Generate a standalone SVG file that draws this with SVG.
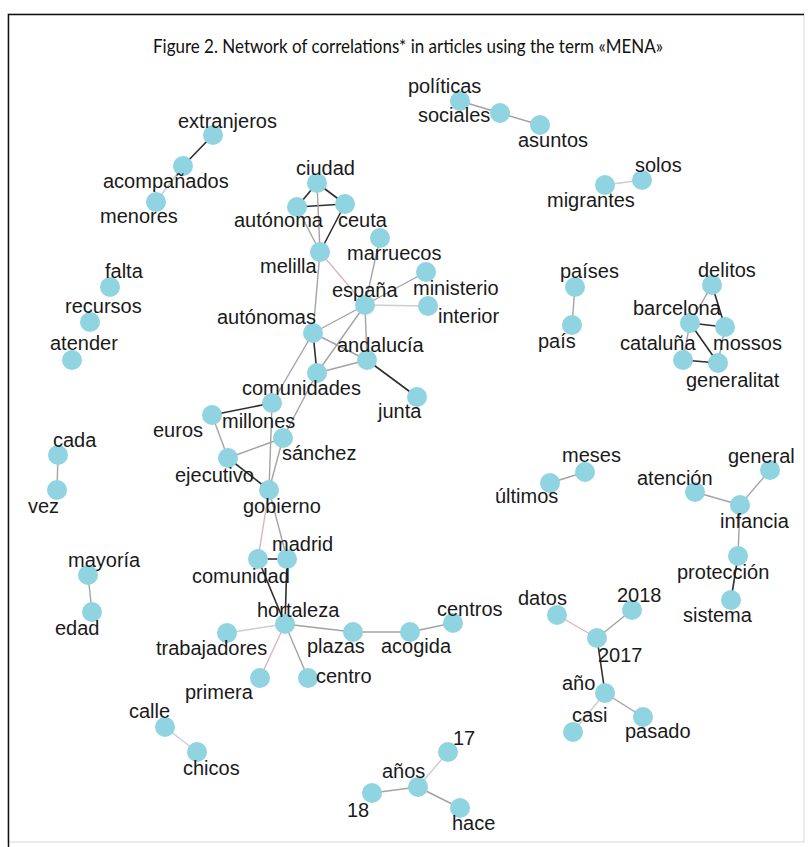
<svg xmlns="http://www.w3.org/2000/svg" width="809" height="847" viewBox="0 0 809 847">
<style>
.n circle{fill:#8fd4e0}
.n text{font-family:"Liberation Sans",Arial,sans-serif;font-size:20px;fill:#1a1a1a}
.d{stroke:#2e2e2e;stroke-width:1.6}
.g{stroke:#a3a3a3;stroke-width:1.4}
.l{stroke:#cdcdcd;stroke-width:1.4}
.p{stroke:#dbb5bd;stroke-width:1.4}
.title{font-family:Lato,"Liberation Sans",sans-serif;font-size:19px;fill:#111}
</style>
<rect x="0" y="0" width="809" height="847" fill="#ffffff"/>
<rect x="8" y="14" width="796" height="828" fill="none" stroke="#d8d8d8" stroke-width="1"/>
<path d="M8.5 847 V14.5 H804" fill="none" stroke="#111" stroke-width="1.5"/>
<g id="title">
<text class="title" x="153" y="53" textLength="510" lengthAdjust="spacingAndGlyphs">Figure 2. Network of correlations* in articles using the term «MENA»</text>
</g>
<g id="edges" fill="none">
<line class="d" x1="213" y1="135" x2="183" y2="166"/>
<line class="l" x1="183" y1="166" x2="156" y2="202"/>
<line class="g" x1="58" y1="455" x2="57" y2="490"/>
<line class="g" x1="460" y1="101" x2="500" y2="113"/>
<line class="g" x1="500" y1="113" x2="540" y2="125"/>
<line class="l" x1="642" y1="180" x2="605" y2="185"/>
<line class="d" x1="317" y1="183" x2="297" y2="207"/>
<line class="d" x1="317" y1="183" x2="345" y2="204"/>
<line class="d" x1="297" y1="207" x2="345" y2="204"/>
<line class="g" x1="317" y1="183" x2="320" y2="252"/>
<line class="d" x1="345" y1="204" x2="320" y2="252"/>
<line class="g" x1="297" y1="207" x2="320" y2="252"/>
<line class="p" x1="320" y1="252" x2="365" y2="305"/>
<line class="g" x1="320" y1="252" x2="313" y2="333"/>
<line class="g" x1="380" y1="238" x2="365" y2="305"/>
<line class="g" x1="365" y1="305" x2="426" y2="272"/>
<line class="l" x1="365" y1="305" x2="428" y2="306"/>
<line class="g" x1="365" y1="305" x2="313" y2="333"/>
<line class="g" x1="365" y1="305" x2="367" y2="360"/>
<line class="g" x1="365" y1="305" x2="317" y2="373"/>
<line class="g" x1="313" y1="333" x2="367" y2="360"/>
<line class="d" x1="313" y1="333" x2="317" y2="373"/>
<line class="g" x1="317" y1="373" x2="367" y2="360"/>
<line class="d" x1="367" y1="360" x2="417" y2="397"/>
<line class="g" x1="313" y1="333" x2="272" y2="403"/>
<line class="g" x1="317" y1="373" x2="283" y2="438"/>
<line class="d" x1="212" y1="415" x2="272" y2="403"/>
<line class="g" x1="212" y1="415" x2="228" y2="458"/>
<line class="g" x1="228" y1="458" x2="283" y2="438"/>
<line class="d" x1="228" y1="458" x2="269" y2="490"/>
<line class="g" x1="272" y1="403" x2="269" y2="490"/>
<line class="g" x1="283" y1="438" x2="269" y2="490"/>
<line class="p" x1="269" y1="490" x2="258" y2="559"/>
<line class="g" x1="269" y1="490" x2="287" y2="559"/>
<line class="d" x1="258" y1="559" x2="287" y2="559"/>
<line class="d" x1="258" y1="559" x2="285" y2="624"/>
<line class="d" x1="287" y1="559" x2="285" y2="624"/>
<line class="l" x1="285" y1="624" x2="227" y2="633"/>
<line class="p" x1="285" y1="624" x2="260" y2="678"/>
<line class="g" x1="285" y1="624" x2="308" y2="678"/>
<line class="g" x1="285" y1="624" x2="353" y2="632"/>
<line class="g" x1="353" y1="632" x2="410" y2="632"/>
<line class="g" x1="410" y1="632" x2="453" y2="623"/>
<line class="l" x1="448" y1="752" x2="418" y2="787"/>
<line class="g" x1="418" y1="787" x2="372" y2="793"/>
<line class="g" x1="418" y1="787" x2="460" y2="808"/>
<line class="g" x1="88" y1="575" x2="92" y2="612"/>
<line class="l" x1="165" y1="727" x2="197" y2="752"/>
<line class="p" x1="557" y1="615" x2="597" y2="638"/>
<line class="g" x1="632" y1="610" x2="597" y2="638" stroke="#a898ac"/>
<line class="d" x1="597" y1="638" x2="605" y2="693" stroke="#555"/>
<line class="g" x1="605" y1="693" x2="643" y2="717"/>
<line class="l" x1="605" y1="693" x2="573" y2="732"/>
<line class="g" x1="575" y1="287" x2="572" y2="325"/>
<line class="g" x1="712" y1="285" x2="690" y2="323"/>
<line class="d" x1="712" y1="285" x2="725" y2="327"/>
<line class="d" x1="690" y1="323" x2="725" y2="327"/>
<line class="d" x1="690" y1="323" x2="718" y2="363"/>
<line class="d" x1="683" y1="360" x2="718" y2="363"/>
<line class="g" x1="690" y1="323" x2="683" y2="360"/>
<line class="g" x1="725" y1="327" x2="718" y2="363"/>
<line class="g" x1="585" y1="472" x2="550" y2="483"/>
<line class="g" x1="695" y1="492" x2="740" y2="505"/>
<line class="g" x1="770" y1="470" x2="740" y2="505"/>
<line class="g" x1="740" y1="505" x2="738" y2="556"/>
<line class="d" x1="738" y1="556" x2="731" y2="600" stroke="#555"/>
</g>
<g id="extranjeros" class="n"><circle cx="213" cy="135" r="10"/><text x="178" y="128">extranjeros</text></g>
<g id="acompanados" class="n"><circle cx="183" cy="166" r="10"/><text x="103" y="188">acompañados</text></g>
<g id="menores" class="n"><circle cx="156" cy="202" r="10"/><text x="100" y="223">menores</text></g>
<g id="falta" class="n"><circle cx="110" cy="287" r="10"/><text x="105" y="278">falta</text></g>
<g id="recursos" class="n"><circle cx="90" cy="322" r="10"/><text x="65" y="313">recursos</text></g>
<g id="atender" class="n"><circle cx="72" cy="360" r="10"/><text x="50" y="350">atender</text></g>
<g id="cada" class="n"><circle cx="58" cy="455" r="10"/><text x="53" y="447">cada</text></g>
<g id="vez" class="n"><circle cx="57" cy="490" r="10"/><text x="28" y="513">vez</text></g>
<g id="politicas" class="n"><circle cx="460" cy="101" r="10"/><text x="408" y="93">políticas</text></g>
<g id="sociales" class="n"><circle cx="500" cy="113" r="10"/><text x="418" y="122">sociales</text></g>
<g id="asuntos" class="n"><circle cx="540" cy="125" r="10"/><text x="518" y="147">asuntos</text></g>
<g id="solos" class="n"><circle cx="642" cy="180" r="10"/><text x="635" y="172">solos</text></g>
<g id="migrantes" class="n"><circle cx="605" cy="185" r="10"/><text x="547" y="207">migrantes</text></g>
<g id="ciudad" class="n"><circle cx="317" cy="183" r="10"/><text x="296" y="175">ciudad</text></g>
<g id="autonoma" class="n"><circle cx="297" cy="207" r="10"/><text x="234" y="227">autónoma</text></g>
<g id="ceuta" class="n"><circle cx="345" cy="204" r="10"/><text x="338" y="227">ceuta</text></g>
<g id="melilla" class="n"><circle cx="320" cy="252" r="10"/><text x="260" y="273">melilla</text></g>
<g id="marruecos" class="n"><circle cx="380" cy="238" r="10"/><text x="347" y="260">marruecos</text></g>
<g id="espana" class="n"><circle cx="365" cy="305" r="10"/><text x="332" y="297">españa</text></g>
<g id="ministerio" class="n"><circle cx="426" cy="272" r="10"/><text x="413" y="295">ministerio</text></g>
<g id="interior" class="n"><circle cx="428" cy="306" r="10"/><text x="438" y="323">interior</text></g>
<g id="autonomas" class="n"><circle cx="313" cy="333" r="10"/><text x="217" y="324">autónomas</text></g>
<g id="andalucia" class="n"><circle cx="367" cy="360" r="10"/><text x="337" y="352">andalucía</text></g>
<g id="comunidades" class="n"><circle cx="317" cy="373" r="10"/><text x="242" y="395">comunidades</text></g>
<g id="junta" class="n"><circle cx="417" cy="397" r="10"/><text x="378" y="418">junta</text></g>
<g id="millones" class="n"><circle cx="272" cy="403" r="10"/><text x="222" y="428">millones</text></g>
<g id="euros" class="n"><circle cx="212" cy="415" r="10"/><text x="153" y="437">euros</text></g>
<g id="sanchez" class="n"><circle cx="283" cy="438" r="10"/><text x="282" y="460">sánchez</text></g>
<g id="ejecutivo" class="n"><circle cx="228" cy="458" r="10"/><text x="175" y="482">ejecutivo</text></g>
<g id="gobierno" class="n"><circle cx="269" cy="490" r="10"/><text x="243" y="513">gobierno</text></g>
<g id="madrid" class="n"><circle cx="287" cy="559" r="10"/><text x="272" y="551">madrid</text></g>
<g id="comunidad" class="n"><circle cx="258" cy="559" r="10"/><text x="192" y="583">comunidad</text></g>
<g id="hortaleza" class="n"><circle cx="285" cy="624" r="10"/><text x="257" y="617">hortaleza</text></g>
<g id="trabajadores" class="n"><circle cx="227" cy="633" r="10"/><text x="156" y="655">trabajadores</text></g>
<g id="primera" class="n"><circle cx="260" cy="678" r="10"/><text x="185" y="699">primera</text></g>
<g id="centro" class="n"><circle cx="308" cy="678" r="10"/><text x="316" y="683">centro</text></g>
<g id="plazas" class="n"><circle cx="353" cy="632" r="10"/><text x="307" y="653">plazas</text></g>
<g id="acogida" class="n"><circle cx="410" cy="632" r="10"/><text x="381" y="653">acogida</text></g>
<g id="centros" class="n"><circle cx="453" cy="623" r="10"/><text x="437" y="616">centros</text></g>
<g id="anos" class="n"><circle cx="418" cy="787" r="10"/><text x="382" y="778">años</text></g>
<g id="n17" class="n"><circle cx="448" cy="752" r="10"/><text x="453" y="745">17</text></g>
<g id="n18" class="n"><circle cx="372" cy="793" r="10"/><text x="347" y="817">18</text></g>
<g id="hace" class="n"><circle cx="460" cy="808" r="10"/><text x="452" y="830">hace</text></g>
<g id="mayoria" class="n"><circle cx="88" cy="575" r="10"/><text x="68" y="567">mayoría</text></g>
<g id="edad" class="n"><circle cx="92" cy="612" r="10"/><text x="55" y="635">edad</text></g>
<g id="calle" class="n"><circle cx="165" cy="727" r="10"/><text x="129" y="718">calle</text></g>
<g id="chicos" class="n"><circle cx="197" cy="752" r="10"/><text x="183" y="775">chicos</text></g>
<g id="datos" class="n"><circle cx="557" cy="615" r="10"/><text x="518" y="605">datos</text></g>
<g id="n2018" class="n"><circle cx="632" cy="610" r="10"/><text x="617" y="602">2018</text></g>
<g id="n2017" class="n"><circle cx="597" cy="638" r="10"/><text x="598" y="662">2017</text></g>
<g id="ano" class="n"><circle cx="605" cy="693" r="10"/><text x="562" y="690">año</text></g>
<g id="casi" class="n"><circle cx="573" cy="732" r="10"/><text x="572" y="722">casi</text></g>
<g id="pasado" class="n"><circle cx="643" cy="717" r="10"/><text x="625" y="738">pasado</text></g>
<g id="paises" class="n"><circle cx="575" cy="287" r="10"/><text x="560" y="278">países</text></g>
<g id="pais" class="n"><circle cx="572" cy="325" r="10"/><text x="538" y="348">país</text></g>
<g id="delitos" class="n"><circle cx="712" cy="285" r="10"/><text x="698" y="277">delitos</text></g>
<g id="barcelona" class="n"><circle cx="690" cy="323" r="10"/><text x="633" y="315">barcelona</text></g>
<g id="mossos" class="n"><circle cx="725" cy="327" r="10"/><text x="713" y="350">mossos</text></g>
<g id="cataluna" class="n"><circle cx="683" cy="360" r="10"/><text x="620" y="350">cataluña</text></g>
<g id="generalitat" class="n"><circle cx="718" cy="363" r="10"/><text x="686" y="387">generalitat</text></g>
<g id="meses" class="n"><circle cx="585" cy="472" r="10"/><text x="562" y="462">meses</text></g>
<g id="ultimos" class="n"><circle cx="550" cy="483" r="10"/><text x="495" y="503">últimos</text></g>
<g id="atencion" class="n"><circle cx="695" cy="492" r="10"/><text x="637" y="485">atención</text></g>
<g id="general" class="n"><circle cx="770" cy="470" r="10"/><text x="728" y="463">general</text></g>
<g id="infancia" class="n"><circle cx="740" cy="505" r="10"/><text x="720" y="528">infancia</text></g>
<g id="proteccion" class="n"><circle cx="738" cy="556" r="10"/><text x="677" y="579">protección</text></g>
<g id="sistema" class="n"><circle cx="731" cy="600" r="10"/><text x="683" y="622">sistema</text></g>
</svg>
